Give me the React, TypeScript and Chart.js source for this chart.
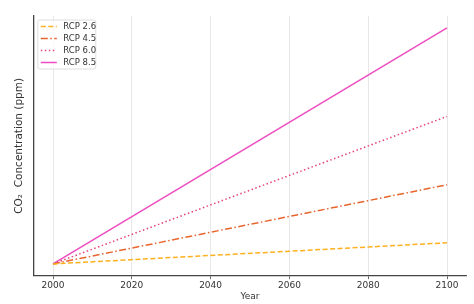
import React, { useEffect, useRef } from "react";
import { Chart, registerables } from "chart.js";

Chart.register(...registerables);

const years = [2000, 2100];
const rcp26 = [370, 421];
const rcp45 = [370, 561];
const rcp60 = [370, 726];
const rcp85 = [370, 940];
const seriesLabels = ["RCP 2.6", "RCP 4.5", "RCP 6.0", "RCP 8.5"];
const tickYears = [2000, 2020, 2040, 2060, 2080, 2100];

const FONT = "'DejaVu Sans', sans-serif";

const legendPlugin = {
  id: "boxLegend",
  afterDraw(chart: any) {
    const { ctx, chartArea } = chart;
    const x0 = chartArea.left + 4.5;
    const y0 = chartArea.top + 4;
    const w = 58;
    const h = 49;
    ctx.save();
    ctx.beginPath();
    if (ctx.roundRect) ctx.roundRect(x0, y0, w, h, 2);
    else ctx.rect(x0, y0, w, h);
    ctx.fillStyle = "rgba(255,255,255,0.8)";
    ctx.fill();
    ctx.strokeStyle = "#d6d6d6";
    ctx.lineWidth = 0.8;
    ctx.stroke();
    chart.data.datasets.forEach((ds: any, i: number) => {
      const y = y0 + 6.5 + i * 12;
      ctx.beginPath();
      ctx.setLineDash(ds.borderDash || []);
      ctx.strokeStyle = ds.borderColor;
      ctx.lineWidth = ds.borderWidth;
      ctx.moveTo(x0 + 3, y);
      ctx.lineTo(x0 + 19, y);
      ctx.stroke();
      ctx.setLineDash([]);
      ctx.fillStyle = "#333";
      ctx.font = `8.5px ${FONT}`;
      ctx.textBaseline = "middle";
      ctx.textAlign = "left";
      ctx.fillText(ds.label, x0 + 25.5, y + 0.5);
    });
    ctx.restore();
  },
};

export default function App() {
  const ref = useRef<HTMLCanvasElement>(null);
  useEffect(() => {
    const mk = (vals: number[]) => years.map((x, i) => ({ x, y: vals[i] }));
    const chart = new Chart(ref.current!, {
      type: "line",
      data: {
        datasets: [
          { label: seriesLabels[0], data: mk(rcp26), borderColor: "#FFB01F", borderDash: [5, 2.5], borderWidth: 1.5, pointRadius: 0 },
          { label: seriesLabels[1], data: mk(rcp45), borderColor: "#E8652E", borderDash: [7, 2.5, 1.5, 2.5], borderWidth: 1.5, pointRadius: 0 },
          { label: seriesLabels[2], data: mk(rcp60), borderColor: "#E4437C", borderDash: [1.5, 2.5], borderWidth: 1.5, pointRadius: 0 },
          { label: seriesLabels[3], data: mk(rcp85), borderColor: "#EE4DC0", borderDash: [], borderWidth: 1.5, pointRadius: 0 },
        ] as any,
      },
      options: {
        animation: false,
        responsive: false,
        maintainAspectRatio: false,
        layout: { padding: { top: 16, right: 7.3, left: 0, bottom: 0 } },
        plugins: { legend: { display: false }, tooltip: { enabled: false } },
        scales: {
          x: {
            type: "linear",
            min: 1995,
            max: 2105,
            afterBuildTicks: (s: any) => {
              s.ticks = tickYears.map((v) => ({ value: v }));
            },
            afterFit: (s: any) => {
              s.height = 28.3;
            },
            grid: { color: "#e2e2e2", lineWidth: 0.8, tickColor: "#444", tickLength: 3.5, drawOnChartArea: true },
            border: { color: "#444", width: 1.3 },
            ticks: {
              color: "#333",
              font: { family: FONT, size: 9 },
              padding: 1,
              maxRotation: 0,
              callback: (v: any) => String(v),
            },
            title: { display: true, text: "Year", color: "#333", font: { family: FONT, size: 9 }, padding: { top: 0, bottom: 2 } },
          },
          y: {
            type: "linear",
            min: 341.5,
            max: 968.5,
            afterFit: (s: any) => {
              s.width = 33.3;
            },
            grid: { display: false },
            border: { display: true, color: "#444", width: 1.3 },
            ticks: { display: false },
            title: { display: true, text: "CO\u2082  Concentration (ppm)", color: "#333", font: { family: FONT, size: 10.5 }, padding: { top: 12.5, bottom: 0 } },
          },
        },
      },
      plugins: [legendPlugin],
    });
    return () => chart.destroy();
  }, []);
  return (
    <div style={{ position: "fixed", left: 0, top: 0, width: 474, height: 304, background: "#fff" }}>
      <canvas ref={ref} width={474} height={304} style={{ width: 474, height: 304 }} />
    </div>
  );
}
